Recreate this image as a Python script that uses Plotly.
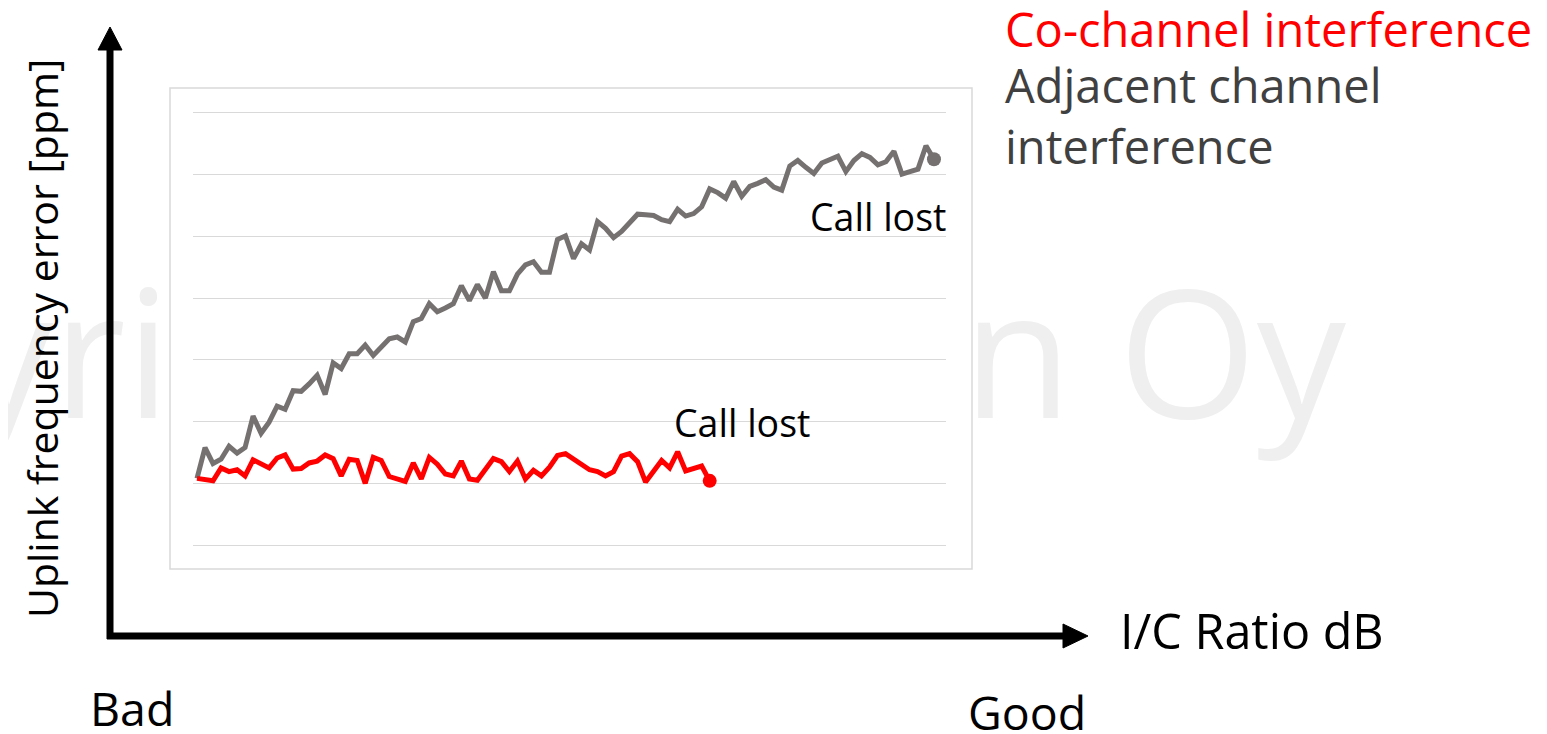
import plotly.graph_objects as go

# uplink frequency error readings, one per I/C step (arbitrary units, gridline = 1)
adjacent_error = [
    1.08, 1.58, 1.32, 1.39, 1.60, 1.49, 1.58, 2.09, 1.81, 1.99,
    2.25, 2.20, 2.50, 2.49, 2.61, 2.75, 2.44, 2.95, 2.86, 3.10,
    3.10, 3.24, 3.07, 3.20, 3.34, 3.37, 3.29, 3.62, 3.67, 3.91,
    3.78, 3.84, 3.91, 4.20, 3.96, 4.22, 4.00, 4.43, 4.12, 4.12,
    4.39, 4.54, 4.59, 4.42, 4.42, 4.95, 5.01, 4.64, 4.88, 4.78,
    5.24, 5.13, 4.98, 5.08, 5.22, 5.36, 5.35, 5.34, 5.27, 5.24,
    5.44, 5.33, 5.37, 5.48, 5.77, 5.71, 5.62, 5.89, 5.65, 5.81,
    5.86, 5.92, 5.80, 5.75, 6.14, 6.23, 6.12, 6.02, 6.19, 6.24,
    6.30, 6.05, 6.23, 6.34, 6.28, 6.16, 6.21, 6.38, 6.01, 6.05,
    6.09, 6.47, 6.25,
]
cochannel_error = [
    1.08, 1.07, 1.04, 1.25, 1.19, 1.22, 1.12, 1.38, 1.32, 1.25,
    1.41, 1.46, 1.23, 1.24, 1.33, 1.36, 1.46, 1.40, 1.12, 1.39,
    1.37, 1.00, 1.42, 1.37, 1.11, 1.06, 1.03, 1.33, 1.07, 1.42,
    1.31, 1.15, 1.12, 1.36, 1.07, 1.05, 1.22, 1.40, 1.35, 1.19,
    1.36, 1.07, 1.21, 1.12, 1.26, 1.45, 1.48, 1.40, 1.32, 1.22,
    1.19, 1.12, 1.19, 1.44, 1.48, 1.35, 1.02, 1.20, 1.37, 1.25,
    1.51, 1.20, 1.24, 1.28, 1.04,
]
grid_levels = list(range(8))

# page is 1547x734, the html body adds an 8px margin top/left
W, H = 1547, 734
OX, OY = 8, 8
FW, FH = W - OX, H - OY
FONT = "Open Sans"
RED = "#ff0000"
GREY = "#767171"


def px(x):
    return (x - OX) / FW


def py(y):
    return 1 - (y - OY) / FH


fig = go.Figure()

# watermark, sitting behind the inset chart frame
for word, end_x in [("Copyright", 440), ("an Oy", 1346)]:
    fig.add_trace(go.Scatter(
        x=[end_x], y=[373], mode="text", text=[word], textposition="middle left",
        textfont={"family": FONT, "size": 178, "color": "#efefef"},
        hoverinfo="skip", showlegend=False, xaxis="x", yaxis="y",
    ))

# empty trace so the frame subplot exists
fig.add_trace(go.Scatter(x=[], y=[], xaxis="x2", yaxis="y2", showlegend=False))

adj_x = list(range(len(adjacent_error)))
co_x = list(range(len(cochannel_error)))
fig.add_trace(go.Scatter(
    x=adj_x, y=adjacent_error, mode="lines", name="Adjacent channel interference",
    line={"color": GREY, "width": 5}, xaxis="x3", yaxis="y3", showlegend=False,
))
fig.add_trace(go.Scatter(
    x=co_x, y=cochannel_error, mode="lines", name="Co-channel interference",
    line={"color": RED, "width": 5}, xaxis="x3", yaxis="y3", showlegend=False,
))
fig.add_trace(go.Scatter(
    x=[adj_x[-1], co_x[-1]], y=[adjacent_error[-1], cochannel_error[-1]],
    mode="markers", marker={"size": 14, "color": [GREY, RED]},
    xaxis="x3", yaxis="y3", showlegend=False, cliponaxis=False,
))

# frame box 170..972 x 88..569, padded so its border is not clipped
PAD = 0.005
hidden = {"visible": False}
fig.update_layout(
    width=FW, height=FH,
    margin={"l": 0, "r": 0, "t": 0, "b": 0},
    paper_bgcolor="white", plot_bgcolor="white",
    showlegend=False,
    font={"family": FONT, "color": "black"},
    xaxis={**hidden, "domain": [0, 1], "range": [OX, W]},
    yaxis={**hidden, "domain": [0, 1], "range": [H, OY]},
    xaxis2={**hidden, "domain": [px(170 - 802 * PAD), px(972 + 802 * PAD)],
            "range": [-PAD, 1 + PAD], "anchor": "y2"},
    yaxis2={**hidden, "domain": [py(569 + 481 * PAD), py(88 - 481 * PAD)],
            "range": [-PAD, 1 + PAD], "anchor": "x2"},
    xaxis3={"domain": [px(193), px(946)], "range": [-0.5, 93.5], "anchor": "y3",
            "showgrid": False, "showticklabels": False, "zeroline": False, "showline": False,
            "ticks": ""},
    yaxis3={"domain": [py(551.2), py(106.8)], "range": [-0.1, 7.1], "anchor": "x3",
            "tickmode": "array", "tickvals": grid_levels, "showticklabels": False,
            "showgrid": True, "gridcolor": "#d9d9d9", "gridwidth": 1,
            "zeroline": False, "showline": False, "ticks": ""},
)

# inset chart frame
fig.add_shape(type="rect", xref="x2", yref="y2", x0=0, x1=1, y0=0, y1=1,
              fillcolor="white", line={"color": "#d9d9d9", "width": 1.5}, layer="below")

# big axis arrows
ARROW = {"color": "black", "width": 7}
fig.add_shape(type="line", xref="paper", yref="paper",
              x0=px(110), x1=px(110), y0=py(639), y1=py(46), line=ARROW, layer="above")
fig.add_shape(type="path", xref="paper", yref="paper", layer="above",
              path=f"M {px(98)} {py(50)} L {px(110)} {py(27)} L {px(122)} {py(50)} Z",
              fillcolor="black", line={"color": "black", "width": 1})
fig.add_shape(type="line", xref="paper", yref="paper",
              x0=px(107), x1=px(1066), y0=py(636), y1=py(636), line=ARROW, layer="above")
fig.add_shape(type="path", xref="paper", yref="paper", layer="above",
              path=f"M {px(1063)} {py(624)} L {px(1088)} {py(636)} L {px(1063)} {py(648)} Z",
              fillcolor="black", line={"color": "black", "width": 1})


def label(text, x, y, size, color="black", xanchor="left", **kw):
    fig.add_annotation(text=text, x=x, y=y, xref=kw.pop("xref", "paper"),
                       yref=kw.pop("yref", "paper"), xanchor=xanchor, yanchor="middle",
                       showarrow=False, font={"family": FONT, "size": size, "color": color},
                       **kw)


label("Uplink frequency error [ppm]", px(42), py(339), 41, xanchor="center", textangle=-90)
label("I/C Ratio dB", px(1118), py(630), 48.5)
label("Bad", px(88), py(708), 46.5)
label("Good", px(966), py(712), 46.5)
label("Co-channel interference", px(1003), py(29), 47, color=RED)
label("Adjacent channel<br>interference", px(1003), py(115), 47, color="#404040", align="left")
label("Call lost", px(948), py(216), 37.5, xanchor="right")
label("Call lost", 68, 1.98, 37.5, xanchor="center", xref="x3", yref="y3")

fig.write_html("out.html")
